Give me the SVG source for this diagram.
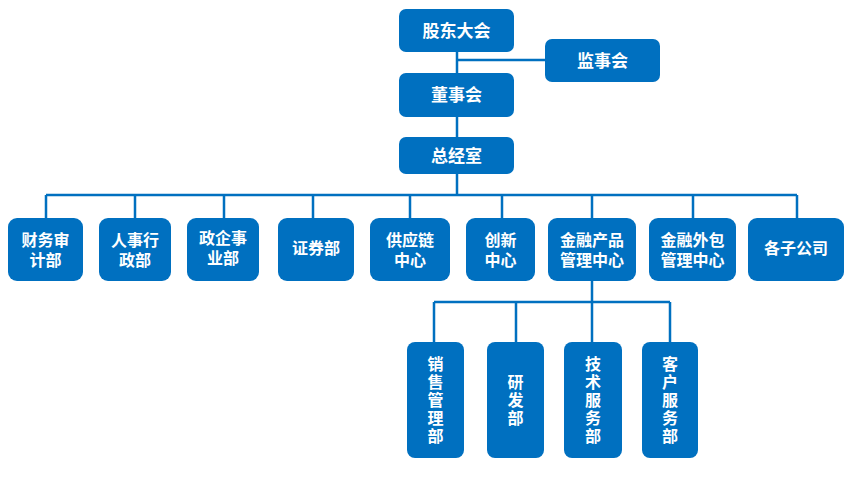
<svg xmlns="http://www.w3.org/2000/svg" width="855" height="500" viewBox="0 0 855 500">
<style>
.box{fill:#0070C0;}
.t{fill:#fff;font-family:"Liberation Sans","Noto Sans CJK SC",sans-serif;font-weight:bold;font-size:16px;text-anchor:middle;}
.tl{font-size:17px;}
.v{font-family:"Noto Sans CJK SC",sans-serif;font-size:16px;writing-mode:vertical-rl;letter-spacing:2px;}
.ln{stroke:#0070C0;stroke-width:2.5;fill:none;}
</style>
<rect width="855" height="500" fill="#fff"/>
<g id="connectors">
<path class="ln" d="M457 52V137M457 60H545M457 174V195M46 195H797M46 195V218M135 195V218M224 195V218M313 195V218M410 195V218M502 195V218M592 195V218M693 195V218M797 195V218"/>
<path class="ln" d="M592 281V302M434 302H670M434 302V342M516 302V342M592 302V342M670 302V342"/>
</g>
<g id="n-gudong"><rect class="box" x="399" y="9" width="115" height="43" rx="7"/><text class="t tl" x="456.5" y="37">股东大会</text></g>
<g id="n-jianshi"><rect class="box" x="545" y="39" width="115" height="43" rx="7"/><text class="t tl" x="602.5" y="67">监事会</text></g>
<g id="n-dongshi"><rect class="box" x="399" y="73" width="115" height="44" rx="7"/><text class="t tl" x="456.5" y="101">董事会</text></g>
<g id="n-zongjing"><rect class="box" x="399" y="137" width="115" height="37" rx="7"/><text class="t tl" x="456.5" y="162">总经室</text></g>
<g id="n-caiwu"><rect class="box" x="8" y="218" width="75" height="63" rx="9"/><text class="t" x="45.5" y="246">财务审<tspan x="45.5" dy="20">计部</tspan></text></g>
<g id="n-renshi"><rect class="box" x="99" y="218" width="72" height="63" rx="9"/><text class="t" x="135" y="246">人事行<tspan x="135" dy="20">政部</tspan></text></g>
<g id="n-zhengqi"><rect class="box" x="187" y="218" width="72" height="63" rx="9"/><text class="t" x="223" y="244">政企事<tspan x="223" dy="20">业部</tspan></text></g>
<g id="n-zhengquan"><rect class="box" x="278" y="218" width="76" height="63" rx="9"/><text class="t" x="316" y="254">证券部</text></g>
<g id="n-gongying"><rect class="box" x="370" y="218" width="80" height="63" rx="9"/><text class="t" x="410" y="246">供应链<tspan x="410" dy="20">中心</tspan></text></g>
<g id="n-chuangxin"><rect class="box" x="466" y="218" width="69" height="63" rx="9"/><text class="t" x="500.5" y="246">创新<tspan x="500.5" dy="20">中心</tspan></text></g>
<g id="n-jinrongchanpin"><rect class="box" x="548" y="218" width="88" height="63" rx="9"/><text class="t" x="592" y="246">金融产品<tspan x="592" dy="20">管理中心</tspan></text></g>
<g id="n-jinrongwaibao"><rect class="box" x="649" y="218" width="87" height="63" rx="9"/><text class="t" x="692.5" y="246">金融外包<tspan x="692.5" dy="20">管理中心</tspan></text></g>
<g id="n-zigongsi"><rect class="box" x="748" y="218" width="96" height="63" rx="9"/><text class="t" x="796" y="254">各子公司</text></g>
<g id="n-xiaoshou"><rect class="box" x="407" y="342" width="57" height="116" rx="8"/><text class="t v" x="435.5" y="401">销售管理部</text></g>
<g id="n-yanfa"><rect class="box" x="487" y="342" width="57" height="116" rx="8"/><text class="t v" x="515.5" y="401">研发部</text></g>
<g id="n-jishu"><rect class="box" x="564" y="342" width="58" height="116" rx="8"/><text class="t v" x="593" y="401">技术服务部</text></g>
<g id="n-kehu"><rect class="box" x="642" y="342" width="56" height="116" rx="8"/><text class="t v" x="670" y="401">客户服务部</text></g>
</svg>
